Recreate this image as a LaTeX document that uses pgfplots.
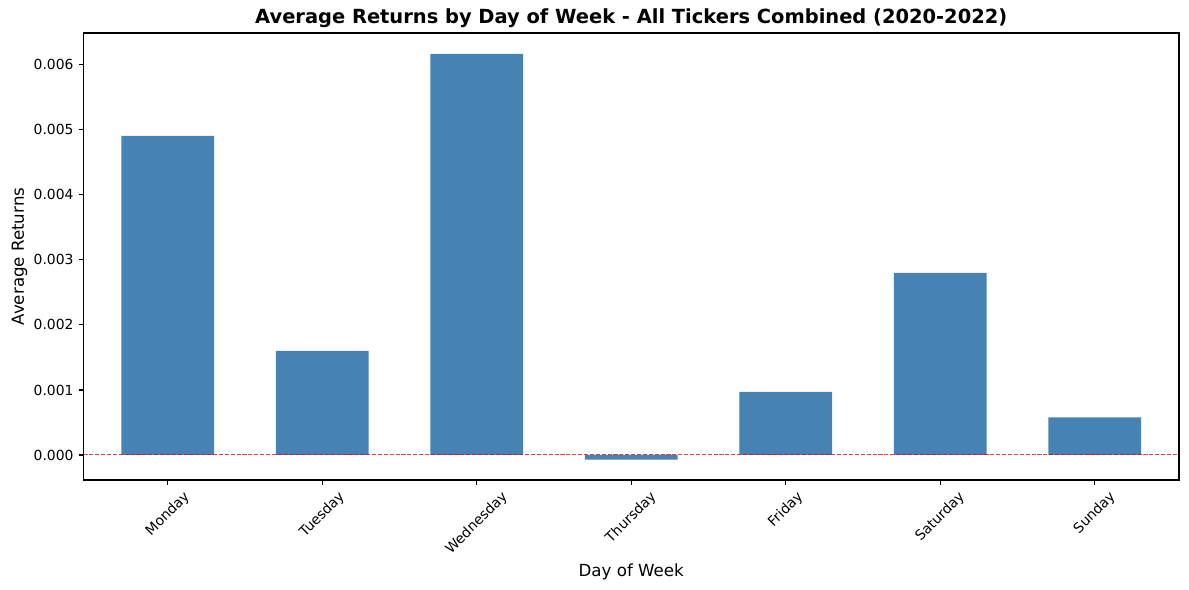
\documentclass[border=0pt]{standalone}
\usepackage{fontspec}
\setmainfont{DejaVu Sans}
\usepackage{graphicx}
\usepackage{pgfplots}
\pgfplotsset{compat=1.18}
\definecolor{steelblue}{RGB}{70,130,180}
\begin{document}
\begin{tikzpicture}
\begin{axis}[
  scale only axis,
  width=788.8pt, height=321.8pt,
  xmin=-0.546, xmax=6.546,
  ymin=-0.000385, ymax=0.00649,
  axis line style={line width=0.8pt},
  tick style={line width=0.8pt, black},
  major tick length=3.5pt,
  tick align=outside,
  xtick pos=bottom, ytick pos=left,
  xtick={0,1,2,3,4,5,6},
  xticklabels={\rotatebox{45}{Monday},\rotatebox{45}{Tuesday},\rotatebox{45}{Wednesday},\rotatebox{45}{Thursday},\rotatebox{45}{Friday},\rotatebox{45}{Saturday},\rotatebox{45}{Sunday}},
  xticklabel style={anchor=north, inner sep=0pt, yshift=-3.5pt, font=\fontsize{10}{12}\selectfont},
  ytick={0,0.001,0.002,0.003,0.004,0.005,0.006},
  scaled y ticks=false,
  yticklabel style={/pgf/number format/.cd, fixed, fixed zerofill, precision=3, assume math mode=true, /tikz/.cd, font=\fontsize{10}{12}\selectfont, inner sep=0pt, xshift=-3.5pt},
  title={Average Returns by Day of Week - All Tickers Combined (2020-2022)},
  title style={font=\fontsize{14}{17}\selectfont\bfseries, inner sep=0pt, yshift=-2.5pt},
  xlabel={Day of Week},
  ylabel={Average Returns},
  xlabel style={font=\fontsize{12}{14}\selectfont, yshift=-2pt},
  ylabel style={font=\fontsize{12}{14}\selectfont, yshift=1pt},
  ybar, bar width=0.6,
]
\addplot[fill=steelblue, draw=none] coordinates {
  (0,0.00491) (1,0.00160) (2,0.00617) (3,-0.00007) (4,0.00097) (5,0.00280) (6,0.00058)
};
\addplot[sharp plot, red!85!black, line width=0.7pt, opacity=0.75, dash pattern=on 2.96pt off 1.28pt] coordinates {(-0.546,0) (6.546,0)};
\end{axis}
\path (current axis.south west) ++(-60.1pt,-79.2pt) rectangle ++(856.1pt,424.8pt);
\end{tikzpicture}
\end{document}
